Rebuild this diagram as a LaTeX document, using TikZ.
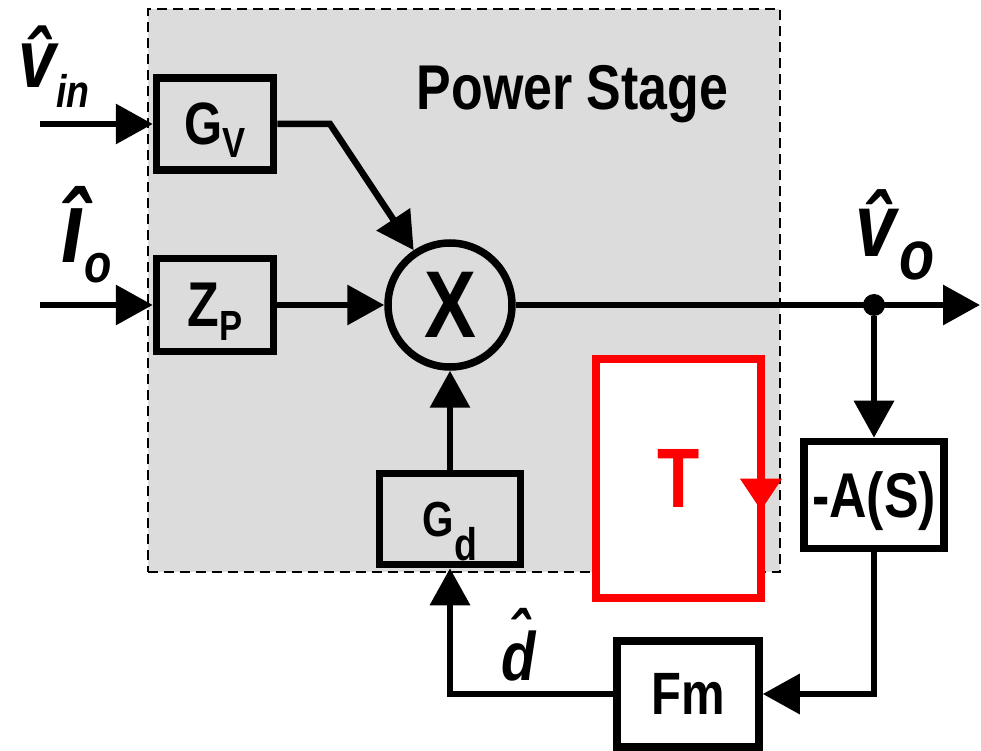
\documentclass[tikz,border=0pt]{standalone}
\usepackage{fontspec}
\setmainfont{Liberation Sans}[FakeStretch=0.82]
\usetikzlibrary{arrows.meta}
\definecolor{CtlGray}{RGB}{220,220,220}
\definecolor{CtlRed}{RGB}{255,0,0}
\newsavebox{\hatbox}
\newcommand{\lowtext}[3]{\raisebox{-#1}{\fontsize{#2}{#2}\selectfont #3}}
\newcommand{\hatover}[2][0pt]{\sbox{\hatbox}{#2}\makebox[\wd\hatbox][c]{\raisebox{#1}{\char"02C6}}\kern-\wd\hatbox\usebox{\hatbox}}
\tikzset{
  ctl/stage/.style={
    draw=black,
    line width=1.1pt,
    dash pattern=on 0.2cm off 0.12cm,
    fill=CtlGray,
    inner sep=0pt,
    minimum width=12.64cm,
    minimum height=11.26cm
  },
  ctl/box/.style={
    draw=black,
    line width=0.15cm,
    inner sep=0pt,
    text depth=0pt,
    font=\bfseries
  },
  ctl/mult/.style={
    circle,
    draw=black,
    line width=0.15cm,
    inner sep=0pt,
    minimum size=2.48cm,
    font=\bfseries\fontsize{54}{54}\selectfont
  },
  ctl/loop/.style={
    draw=CtlRed,
    line width=0.16cm,
    fill=white,
    inner sep=0pt,
    outer sep=0pt,
    minimum width=3.30cm,
    minimum height=4.79cm,
    text=CtlRed,
    font=\bfseries\fontsize{48}{48}\selectfont
  },
  ctl/dot/.style={circle, fill=black, inner sep=0pt, minimum size=0.44cm},
  ctl/arrow/.style={-{Triangle[length=0.74cm,width=0.78cm]}, line width=0.13cm, draw=black},
  ctl/redarrow/.style={-{Triangle[length=0.64cm,width=0.80cm]}, line width=0.16cm, draw=CtlRed},
  ctl/title/.style={font=\bfseries\fontsize{36}{36}\selectfont, inner sep=0pt, anchor=base},
  ctl/signal/.style={inner sep=0pt, anchor=base west}
}
\begin{document}
\begin{tikzpicture}[x=1cm,y=1cm]
  \useasboundingbox (0,0) rectangle (19.62,15);
  % power stage
  \node[ctl/stage] (stage) at (9.28,9.19) {};
  \node[ctl/title] (title) at (11.45,12.80) {Power Stage};
  \node[ctl/box,minimum width=2.34cm,minimum height=1.84cm] (GV) at (4.30,12.52)
    {\fontsize{34}{34}\selectfont G\lowtext{7pt}{24}{V}};
  \node[ctl/box,minimum width=2.34cm,minimum height=1.86cm] (ZP) at (4.30,8.90)
    {\fontsize{36}{36}\selectfont Z\lowtext{8pt}{24}{P}};
  \node[ctl/mult] (mult) at (9.00,8.90) {X};
  \node[ctl/box,minimum width=2.82cm,minimum height=1.82cm] (Gd) at (9.00,4.62)
    {\fontsize{28}{28}\selectfont G\lowtext{14pt}{26}{d}};
  % loop gain
  \node[ctl/loop] (loopT) at (13.57,5.43) {T};
  \draw[ctl/redarrow] (loopT.east) -- ([yshift=-0.64cm]loopT.east);
  % feedback path
  \node[ctl/dot] (tap) at (17.48,8.90) {};
  \node[ctl/box,minimum width=2.80cm,minimum height=2.14cm] (AS) at (17.48,5.10)
    {\fontsize{36}{36}\selectfont -A(S)};
  \node[ctl/box,minimum width=2.84cm,minimum height=2.12cm] (Fm) at (13.76,1.12)
    {\fontsize{34}{34}\selectfont Fm};
  \coordinate (inVin) at (0.80,12.52);
  \coordinate (inIo) at (0.80,8.90);
  \coordinate (outVo) at (19.60,8.90);
  \coordinate (bendGV) at (6.60,12.52);
  % signals
  \node[ctl/signal,font=\bfseries\itshape\fontsize{47}{47}\selectfont] (lblvin) at (0.36,13.24)
    {\hatover{v}\lowtext{11pt}{26}{in}};
  \node[ctl/signal,font=\bfseries\itshape\fontsize{58}{58}\selectfont] (lblio) at (1.22,9.74)
    {î\lowtext{11pt}{31}{o}};
  \node[ctl/signal,font=\bfseries\itshape\fontsize{51}{51}\selectfont] (lblvo) at (17.10,9.86)
    {\hatover{v}\lowtext{13pt}{40}{\kern2pt o}};
  \node[ctl/signal,font=\bfseries\itshape\fontsize{39}{39}\selectfont] (lbld) at (10.02,1.40)
    {\hatover[0.3em]{d}};
  % connectors
  \draw[ctl/arrow] (inVin) -- (GV);
  \draw[ctl/arrow] (inIo) -- (ZP);
  \draw[ctl/arrow] (GV.east) -- (bendGV) -- (mult);
  \draw[ctl/arrow] (ZP) -- (mult);
  \draw[ctl/arrow] (Gd) -- (mult);
  \draw[ctl/arrow] (mult) -- (tap.center) -- (outVo);
  \draw[ctl/arrow] (tap) -- (AS);
  \draw[ctl/arrow] (AS.south) |- (Fm.east);
  \draw[ctl/arrow] (Fm.west) -| (Gd.south);
\end{tikzpicture}
\end{document}
